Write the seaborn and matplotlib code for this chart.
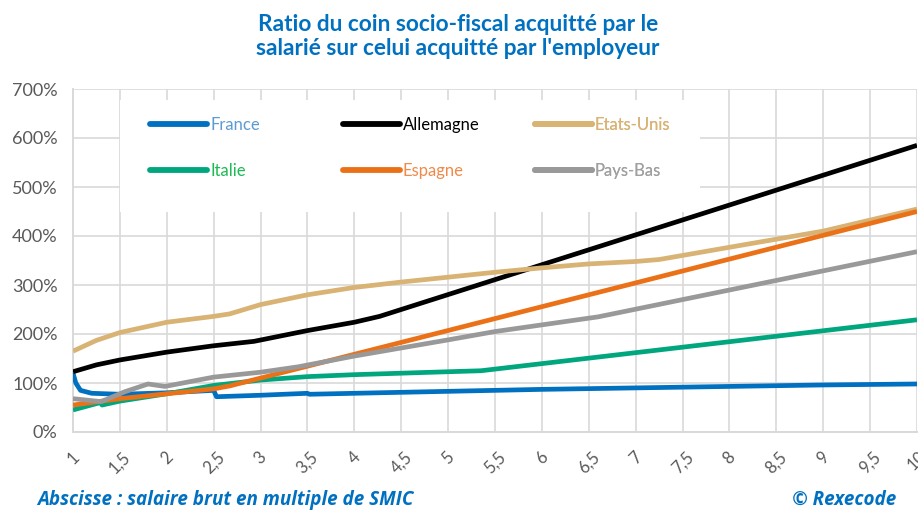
import matplotlib
matplotlib.use("Agg")
import matplotlib.pyplot as plt
import seaborn as sns
import pandas as pd
from matplotlib.ticker import FixedLocator, FuncFormatter
from matplotlib.patches import Rectangle

# ---- data ----
france_x = [1, 1.03, 1.08, 1.2, 1.5, 2, 2.5, 2.53, 3, 3.5, 3.52, 4, 5, 6, 7, 8, 9, 10]
france_y = [120, 100, 85, 79, 77, 80, 85, 72, 75, 79, 77, 79, 83, 87, 90, 93, 96, 98]

allemagne_x = [1, 1.25, 1.5, 2, 2.5, 2.93, 3.5, 4, 4.27, 10]
allemagne_y = [123, 137, 147, 163, 176, 185, 207, 224, 236, 585]

etats_unis_x = [1, 1.25, 1.5, 2, 2.5, 2.67, 3, 3.5, 4, 4.5, 5, 5.5, 6, 6.5, 7, 7.25, 8, 9, 10]
etats_unis_y = [165, 187, 203, 224, 236, 241, 260, 280, 295, 306, 316, 326, 335, 343, 348, 352, 377, 410, 455]

italie_x = [1, 1.29, 1.31, 1.5, 2, 2.5, 3, 3.5, 4, 4.5, 5, 5.35, 10]
italie_y = [45, 60, 55, 63, 78, 95, 106, 113, 117, 120, 123, 125, 229]

espagne_x = [1, 1.5, 2, 2.5, 2.67, 10]
espagne_y = [55, 68, 78, 88, 94, 450]

pays_bas_x = [1, 1.3, 1.55, 1.8, 1.98, 2.5, 3, 3.4, 4, 5, 5.5, 6.6, 10]
pays_bas_y = [68, 62, 82, 98, 93, 112, 122, 133, 155, 188, 205, 235, 368]

countries = ["France", "Allemagne", "Etats-Unis", "Italie", "Espagne", "Pays-Bas"]
line_colors = ["#0070C0", "#000000", "#D8B374", "#00A67E", "#EB7118", "#999999"]
text_colors = ["#5B9BD5", "#000000", "#D8B374", "#1DB954", "#F08A4B", "#A0A0A0"]

x_ticks = [1 + 0.5 * i for i in range(19)]
y_ticks = [0, 100, 200, 300, 400, 500, 600, 700]

series = [(france_x, france_y), (allemagne_x, allemagne_y), (etats_unis_x, etats_unis_y),
          (italie_x, italie_y), (espagne_x, espagne_y), (pays_bas_x, pays_bas_y)]
rows = []
for name, (xs, ys) in zip(countries, series):
    for xv, yv in zip(xs, ys):
        rows.append({"x": xv, "y": yv, "pays": name})
df = pd.DataFrame(rows)

# ---- figure ----
sns.set_theme(style="white")
plt.rcParams["font.family"] = ["Lato", "DejaVu Sans"]

W, H = 918, 512
fig = plt.figure(figsize=(W / 100, H / 100), dpi=100)
ax = fig.add_axes([73 / W, (H - 432) / H, 844 / W, 343 / H])

sns.lineplot(data=df, x="x", y="y", hue="pays", hue_order=countries,
             palette=dict(zip(countries, line_colors)), estimator=None, sort=False,
             linewidth=3.4, ax=ax, legend=True, zorder=3)
for ln in ax.get_lines():
    ln.set_solid_capstyle("butt")
    ln.set_solid_joinstyle("round")

ax.set_xlim(1, 10)
ax.set_ylim(0, 700)
ax.xaxis.set_major_locator(FixedLocator(x_ticks))
ax.yaxis.set_major_locator(FixedLocator(y_ticks))
ax.xaxis.set_major_formatter(FuncFormatter(lambda v, p: ("%g" % v).replace(".", ",")))
ax.yaxis.set_major_formatter(FuncFormatter(lambda v, p: "%d%%" % v))
ax.grid(True, color="#D9D9D9", linewidth=1.2)
ax.set_axisbelow(True)
for s in ["top", "right"]:
    ax.spines[s].set_visible(False)
for s in ["left", "bottom"]:
    ax.spines[s].set_color("#D9D9D9")
    ax.spines[s].set_linewidth(1.4)
ax.tick_params(axis="both", length=0, colors="#595959", labelsize=13)
ax.tick_params(axis="y", pad=11)
ax.tick_params(axis="x", pad=12, labelsize=12)
for lab in ax.get_xticklabels():
    lab.set_rotation(45)
    lab.set_ha("center")
    lab.set_va("top")
ax.set_xlabel("")
ax.set_ylabel("")

# white legend panel
ax.add_patch(Rectangle(((120 - 73) / 844, (432 - 212) / 343), (700 - 120) / 844, 112 / 343,
                       transform=ax.transAxes, facecolor="white", edgecolor="none", zorder=1.5))

# legend: three columns, each its own legend
handles, labels = ax.get_legend_handles_labels()
ax.get_legend().remove()
hmap = dict(zip(labels, handles))
cmap = dict(zip(countries, text_colors))
col_groups = [["France", "Italie"], ["Allemagne", "Espagne"], ["Etats-Unis", "Pays-Bas"]]
col_x = [150, 343, 535]
for grp, cx in zip(col_groups, col_x):
    leg = ax.legend([hmap[g] for g in grp], grp, loc="upper left",
                    bbox_to_anchor=((cx - 73) / 844, (432 - 117) / 343),
                    frameon=False, fontsize=12, handlelength=3.4, handletextpad=0.2,
                    labelspacing=1.8, borderpad=0, borderaxespad=0)
    for t, g in zip(leg.get_texts(), grp):
        t.set_color(cmap[g])
    for h in leg.legend_handles:
        h.set_linewidth(4.2)
        h.set_solid_capstyle("round")
    leg.set_zorder(4)
    ax.add_artist(leg)

# titles & notes
fig.text(458 / W, 1 - 14 / H,
         "Ratio du coin socio-fiscal acquitté par le\nsalarié sur celui acquitté par l'employeur",
         ha="center", va="top", fontsize=16.3, fontweight="bold", color="#0070C0",
         linespacing=1.2)
fig.text(37 / W, 1 - 500 / H, "Abscisse : salaire brut en multiple de SMIC",
         ha="left", va="center", fontsize=13.6, fontweight="bold", style="italic",
         color="#0070C0", family=["Open Sans", "DejaVu Sans"])
fig.text(896 / W, 1 - 500 / H, "© Rexecode",
         ha="right", va="center", fontsize=13.6, fontweight="bold", style="italic",
         color="#0070C0", family=["Open Sans", "DejaVu Sans"])

fig.savefig("out.png", dpi=100)
